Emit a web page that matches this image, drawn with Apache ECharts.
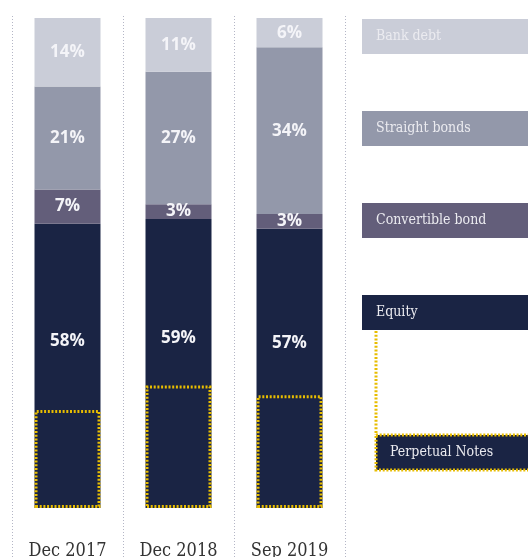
<!DOCTYPE html>
<html>
<head>
<meta charset="utf-8">
<script src="https://cdn.jsdelivr.net/npm/echarts@6/dist/echarts.min.js"></script>
<style>
	html,body{margin:0;padding:0;background:#fff;}
	#chart{width:528px;height:557px;}
</style>
</head>
<body>
<div id="chart"></div>
<script>
// data
const categories = ['Dec 2017', 'Dec 2018', 'Sep 2019']
const bankDebt = [14, 11, 6]
const straightBonds = [21, 27, 34]
const convertibleBond = [7, 3, 3]
const equity = [58, 59, 57]
const perpetualNotes = [20, 25, 23]
const legendNames = ['Bank debt', 'Straight bonds', 'Convertible bond', 'Equity']

const colors = ['#cacdd8', '#9398aa', '#635e7a', '#1a2444']
const gold = '#e8bd00'

let chart = echarts.init(document.getElementById('chart'))

let barLabel = {
	show: true,
	position: 'inside',
	color: '#f4f4f8',
	fontFamily: 'Open Sans',
	fontWeight: 'bold',
	fontSize: 17,
	formatter: p => p.value + '%'
}

// legend boxes on the right
let graphic = []
legendNames.forEach((name, i) => {
	graphic.push({
		type: 'rect',
		shape: {x: 362, y: 19 + i * 92, width: 180, height: 35},
		style: {fill: colors[i]}
	})
	graphic.push({
		type: 'text',
		x: 376, y: 36.5 + i * 92,
		style: {text: name, fill: '#ebebf0', font: '14px "DejaVu Serif Condensed"', verticalAlign: 'middle'}
	})
})
graphic.push({
	type: 'line',
	shape: {x1: 376, y1: 331, x2: 376, y2: 435},
	style: {stroke: gold, lineWidth: 3, lineDash: [2, 1.7]}
})
graphic.push({
	type: 'rect',
	shape: {x: 376, y: 435, width: 170, height: 35},
	style: {fill: colors[3], stroke: gold, lineWidth: 3, lineDash: [2, 1.7]}
})
graphic.push({
	type: 'text',
	x: 390, y: 452.5,
	style: {text: 'Perpetual Notes', fill: '#ebebf0', font: '14px "DejaVu Serif Condensed"', verticalAlign: 'middle'}
})

let option = {
	animation: false,
	grid: {left: 12, right: 183, top: 16, bottom: 0, outerBoundsMode: 'none', containLabel: false},
	xAxis: {
		type: 'category',
		data: categories,
		axisLine: {show: false, onZero: false},
		axisTick: {show: false},
		axisLabel: {
			margin: -15,
			verticalAlign: 'top',
			color: '#333',
			fontFamily: 'DejaVu Serif Condensed',
			fontSize: 18
		},
		splitLine: {show: true, lineStyle: {color: '#b4b6c6', width: 1, type: [1, 2]}}
	},
	yAxis: {
		type: 'value',
		min: -10,
		max: 100.4,
		show: false
	},
	series: [
		{name: 'Equity', type: 'bar', stack: 'total', barWidth: 66, data: equity,
			itemStyle: {color: colors[3]}, label: Object.assign({}, barLabel, {offset: [0, -25]})},
		{name: 'Convertible bond', type: 'bar', stack: 'total', data: convertibleBond,
			itemStyle: {color: colors[2]}, label: barLabel},
		{name: 'Straight bonds', type: 'bar', stack: 'total', data: straightBonds,
			itemStyle: {color: colors[1]}, label: barLabel},
		{name: 'Bank debt', type: 'bar', stack: 'total', data: bankDebt,
			itemStyle: {color: colors[0]}, label: barLabel},
		{name: 'Perpetual Notes', type: 'bar', barWidth: 66, barGap: '-100%', z: 5, data: perpetualNotes,
			itemStyle: {color: 'transparent', borderColor: gold, borderWidth: 3, borderType: [2, 1.7]}}
	],
	graphic: graphic
}
chart.setOption(option)
</script>
</body>
</html>
